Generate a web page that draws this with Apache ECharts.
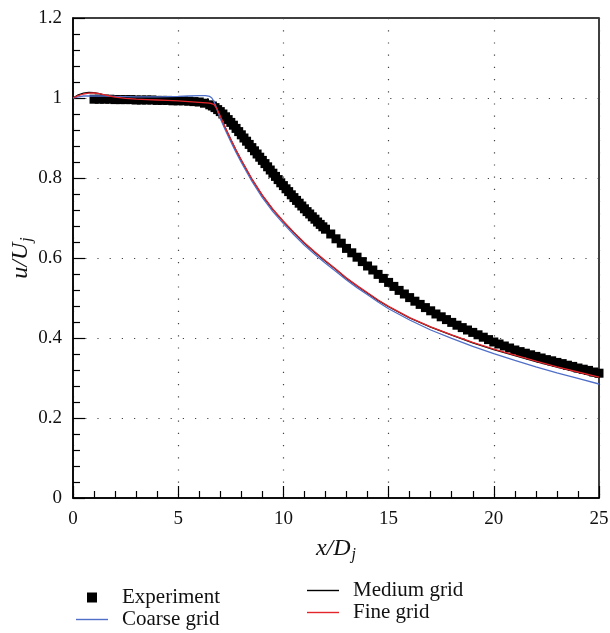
<!DOCTYPE html>
<html>
<head>
<meta charset="utf-8">
<script src="https://cdn.jsdelivr.net/npm/echarts@6/dist/echarts.min.js"></script>
<style>
  html, body { margin: 0; padding: 0; background: #fff; }
  #chart { width: 610px; height: 633px; }
</style>
</head>
<body>
<div id="chart"></div>
<script>
// Centreline velocity decay u/U_j against x/D_j

// Measured points
const expX = [
  1.00, 1.25, 1.50, 1.75, 2.00, 2.25, 2.50, 2.75, 3.00, 3.25, 3.50, 3.75,
  4.00, 4.25, 4.50, 4.75, 5.00, 5.25, 5.50, 5.75, 6.00, 6.25,
  6.500, 6.625, 6.750, 6.875, 7.000, 7.125, 7.250, 7.375, 7.500, 7.625, 7.750, 7.875,
  8.000, 8.125, 8.250, 8.375, 8.500, 8.625, 8.750, 8.875, 9.000, 9.125, 9.250, 9.375,
  9.500, 9.625, 9.750, 9.875, 10.000, 10.125, 10.250, 10.375, 10.500, 10.625, 10.750, 10.875,
  11.000, 11.125, 11.250, 11.375, 11.500, 11.625, 11.750, 11.875,
  12.00, 12.25, 12.50, 12.75,
  13.00, 13.25, 13.50, 13.75, 14.00, 14.25, 14.50, 14.75, 15.00, 15.25, 15.50, 15.75,
  16.00, 16.25, 16.50, 16.75, 17.00, 17.25, 17.50, 17.75, 18.00, 18.25, 18.50, 18.75,
  19.00, 19.25, 19.50, 19.75, 20.00, 20.25, 20.50, 20.75, 21.00, 21.25, 21.50, 21.75,
  22.00, 22.25, 22.50, 22.75, 23.00, 23.25, 23.50, 23.75, 24.00, 24.25, 24.50, 24.75,
  25.00
];
const expU = [
  0.997, 0.997, 0.997, 0.997, 0.996, 0.996, 0.996, 0.996, 0.995, 0.995, 0.995, 0.995,
  0.994, 0.994, 0.994, 0.993, 0.993, 0.993, 0.992, 0.991, 0.990, 0.987,
  0.983, 0.980, 0.976, 0.971, 0.966, 0.960, 0.953, 0.946, 0.939, 0.932, 0.924, 0.916,
  0.908, 0.900, 0.892, 0.884, 0.876, 0.868, 0.860, 0.852, 0.844, 0.836, 0.828, 0.820,
  0.812, 0.804, 0.796, 0.788, 0.781, 0.773, 0.766, 0.758, 0.751, 0.744, 0.737, 0.730,
  0.723, 0.716, 0.710, 0.703, 0.697, 0.690, 0.684, 0.678,
  0.672, 0.660, 0.648, 0.637,
  0.624, 0.613, 0.602, 0.591, 0.580, 0.570, 0.559, 0.549, 0.539, 0.529, 0.519, 0.510,
  0.501, 0.492, 0.484, 0.476, 0.468, 0.460, 0.453, 0.446, 0.439, 0.432, 0.426, 0.420,
  0.414, 0.408, 0.402, 0.396, 0.390, 0.385, 0.380, 0.375, 0.370, 0.366, 0.362, 0.358,
  0.354, 0.350, 0.346, 0.343, 0.339, 0.336, 0.332, 0.329, 0.325, 0.322, 0.319, 0.315,
  0.312
];

// Coarse grid
const coarseX = [0, 0.25, 0.5, 1, 1.5, 2, 3, 4, 5, 5.5, 6, 6.3, 6.5, 6.6, 6.7, 6.8, 6.9,
  7, 7.25, 7.5, 7.75, 8, 8.5, 9, 9.5, 10, 10.5, 11, 11.5, 12, 12.5, 13, 13.5, 14, 14.5,
  15, 16, 17, 18, 19, 20, 21, 22, 23, 24, 25];
const coarseU = [1.000, 1.003, 1.005, 1.0055, 1.005, 1.004, 1.003, 1.003, 1.004, 1.005, 1.006, 1.006, 1.004, 1.000, 0.991, 0.978, 0.963,
  0.949, 0.919, 0.891, 0.864, 0.839, 0.792, 0.751, 0.716, 0.686, 0.658, 0.632, 0.609, 0.587, 0.566, 0.545, 0.526, 0.508, 0.490,
  0.473, 0.445, 0.420, 0.399, 0.379, 0.361, 0.344, 0.328, 0.313, 0.299, 0.285];

// Medium grid
const mediumX = [0, 0.25, 0.5, 0.75, 1, 1.25, 1.5, 1.75, 2, 2.5, 3, 3.5, 4, 4.5, 5, 5.5, 6, 6.5, 6.7, 6.85,
  7, 7.25, 7.5, 7.75, 8, 8.5, 9, 9.5, 10, 10.5, 11, 11.5, 12, 12.5, 13, 13.5, 14, 14.5,
  15, 16, 17, 18, 19, 20, 21, 22, 23, 24, 25];
const mediumU = [1.000, 1.008, 1.012, 1.014, 1.0135, 1.011, 1.007, 1.004, 1.001, 0.998, 0.997, 0.996, 0.995, 0.994, 0.993, 0.991, 0.989, 0.987, 0.983, 0.971,
  0.954, 0.924, 0.896, 0.869, 0.844, 0.797, 0.756, 0.721, 0.691, 0.663, 0.637, 0.614, 0.592, 0.571, 0.549, 0.530, 0.512, 0.494,
  0.478, 0.450, 0.427, 0.407, 0.388, 0.371, 0.356, 0.341, 0.327, 0.314, 0.301];

// Fine grid
const fineX = [0, 0.25, 0.5, 0.75, 1, 1.25, 1.5, 1.75, 2, 2.5, 3, 3.5, 4, 4.5, 5, 5.5, 6, 6.5, 6.7, 6.85,
  7, 7.25, 7.5, 7.75, 8, 8.5, 9, 9.5, 10, 10.5, 11, 11.5, 12, 12.5, 13, 13.5, 14, 14.5,
  15, 16, 17, 18, 19, 20, 21, 22, 23, 24, 25];
const fineU = [1.000, 1.006, 1.010, 1.012, 1.0125, 1.011, 1.008, 1.005, 1.002, 0.999, 0.997, 0.996, 0.995, 0.994, 0.993, 0.991, 0.989, 0.987, 0.984, 0.972,
  0.955, 0.925, 0.897, 0.870, 0.845, 0.798, 0.757, 0.722, 0.692, 0.664, 0.638, 0.615, 0.593, 0.572, 0.550, 0.531, 0.513, 0.495,
  0.479, 0.451, 0.428, 0.408, 0.389, 0.372, 0.357, 0.342, 0.328, 0.315, 0.302];

const pairs = (xs, ys) => xs.map((x, i) => [x, ys[i]]);

const SERIF = '"Liberation Serif", "DejaVu Serif", serif';
const BLUE = '#4f6fc8';
const RED = '#e3262b';
const SQUARE_ICON = 'path://M0,0L10,0L10,10L0,10Z';
const LINE_ICON = 'path://M0,0L32,0L32,1.4L0,1.4Z';

const chart = echarts.init(document.getElementById('chart'), null, { renderer: 'canvas' });

const axisCommon = {
  type: 'value',
  axisLine: { show: true, onZero: false, lineStyle: { color: '#000', width: 1.5 } },
  axisTick: { show: true, inside: true, length: 12, lineStyle: { color: '#000', width: 1.2 } },
  minorTick: { show: true, splitNumber: 5, length: 7, lineStyle: { color: '#000', width: 1.2 } },
  splitLine: { show: true, lineStyle: { color: '#444', width: 1.2, type: [1.2, 11] } },
  axisLabel: { color: '#111', fontFamily: SERIF, fontSize: 19 }
};

const subRich = {
  t: { fontFamily: SERIF, fontStyle: 'italic', fontSize: 24, color: '#111', lineHeight: 28 },
  s: { fontFamily: SERIF, fontStyle: 'italic', fontSize: 16, color: '#111', lineHeight: 28, verticalAlign: 'bottom', padding: [13, 0, 0, 1] }
};

const legendCommon = {
  orient: 'vertical', padding: 0,
  itemWidth: 32, itemHeight: 10, itemGap: 1,
  formatter: '{a|{name}}',
  textStyle: {
    fontFamily: SERIF, fontSize: 21, color: '#111',
    rich: { a: { fontFamily: SERIF, fontSize: 21, color: '#111', lineHeight: 22, padding: [0, 0, 0, 9] } }
  }
};

chart.setOption({
  animation: false,
  backgroundColor: '#fff',
  grid: {
    left: 73, right: 11, top: 18, bottom: 135,
    containLabel: false, outerBoundsMode: 'none',
    show: true, borderColor: '#000', borderWidth: 1.5, backgroundColor: 'transparent'
  },
  xAxis: Object.assign({}, axisCommon, {
    min: 0, max: 25, interval: 5,
    axisLabel: Object.assign({}, axisCommon.axisLabel, { margin: 12 }),
    name: '{t|x/D}{s|j}',
    nameLocation: 'middle',
    nameGap: 37,
    nameMoveOverlap: false,
    nameTextStyle: { rich: subRich }
  }),
  yAxis: Object.assign({}, axisCommon, {
    min: 0, max: 1.2, interval: 0.2,
    axisLabel: Object.assign({}, axisCommon.axisLabel, { margin: 11 }),
    name: '{t|u/U}{s|j}',
    nameLocation: 'middle',
    nameGap: 38,
    nameMoveOverlap: false,
    nameTextStyle: { rich: subRich }
  }),
  legend: [
    Object.assign({}, legendCommon, {
      left: 76, top: 587,
      data: [
        { name: 'Experiment', icon: SQUARE_ICON },
        { name: 'Coarse grid', icon: LINE_ICON }
      ]
    }),
    Object.assign({}, legendCommon, {
      left: 307, top: 580,
      data: [
        { name: 'Medium grid', icon: LINE_ICON },
        { name: 'Fine grid', icon: LINE_ICON }
      ]
    })
  ],
  series: [
    {
      name: 'Experiment', type: 'scatter',
      symbol: 'rect', symbolSize: 9,
      itemStyle: { color: '#000', opacity: 1 },
      data: pairs(expX, expU), z: 2
    },
    {
      name: 'Medium grid', type: 'line', symbol: 'none',
      lineStyle: { color: '#000', width: 1.3 }, itemStyle: { color: '#000' },
      data: pairs(mediumX, mediumU), z: 3
    },
    {
      name: 'Coarse grid', type: 'line', symbol: 'none',
      lineStyle: { color: BLUE, width: 1.3 }, itemStyle: { color: BLUE },
      data: pairs(coarseX, coarseU), z: 4
    },
    {
      name: 'Fine grid', type: 'line', symbol: 'none',
      lineStyle: { color: RED, width: 1.3 }, itemStyle: { color: RED },
      data: pairs(fineX, fineU), z: 5
    }
  ]
});
</script>
</body>
</html>
